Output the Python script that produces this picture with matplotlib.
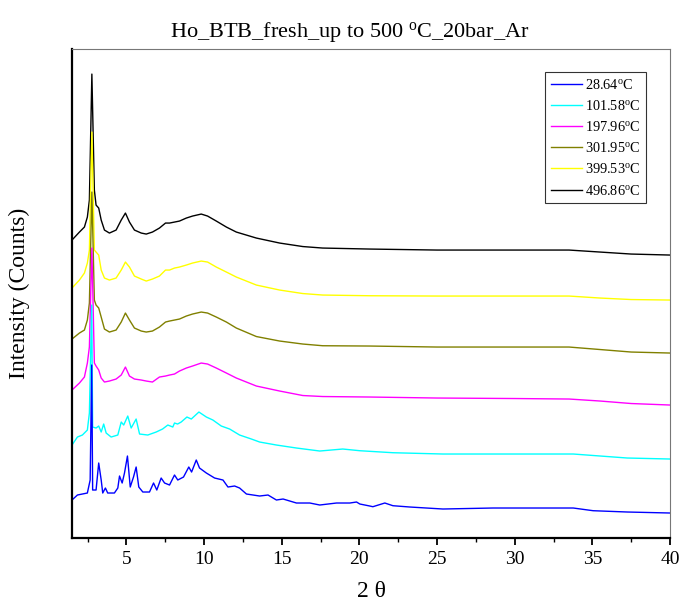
import matplotlib
matplotlib.use("Agg")
import matplotlib.pyplot as plt

plt.rcParams["font.family"] = ["Liberation Serif", "DejaVu Serif"]
plt.rcParams["mathtext.fontset"] = "custom"
plt.rcParams["mathtext.rm"] = "Liberation Serif"
plt.rcParams["mathtext.it"] = "Liberation Serif:italic"

# 2-theta grid shared by the four smoother patterns
two_theta = [1.5, 1.98, 2.30, 2.49, 2.62, 2.78, 2.94, 3.05, 3.22, 3.38, 3.59, 3.91,
             4.34, 4.67, 4.94, 5.20, 5.52, 5.96, 6.28, 6.68, 7.13, 7.52, 7.78, 8.10,
             8.42, 8.86, 9.26, 9.82, 10.23, 10.79, 11.44, 12.08, 13.37, 14.87, 16.36,
             17.64, 20.67, 25.0, 30.0, 33.5, 35.5, 37.5, 40.0]

# intensities, already stacked (arbitrary units)
i_496 = [360, 368, 373, 383, 400, 526, 410, 395, 392, 380, 370, 367,
         370, 380, 387, 378, 370, 367, 366, 368, 372, 377, 377, 378,
         379, 382, 384, 386, 384, 379, 373, 368, 362, 357, 353.5,
         352, 351, 350, 350, 350, 348, 346, 345]
i_399 = [312, 320, 327, 337, 350, 468, 350, 348, 345, 330, 322, 320,
         322, 330, 338, 333, 324, 321, 319, 321, 324, 330, 330, 332,
         333, 335, 337, 339, 338, 333, 328, 323, 315, 310, 306.5,
         305, 304.3, 304, 304, 304, 302, 300.5, 300]
i_301 = [261, 267, 270, 280, 297, 408, 300, 295, 292, 283, 271, 268,
         270, 278, 287, 280, 272, 269, 268, 269, 273, 278, 279, 280,
         281, 284, 286, 288, 287, 283, 278, 272, 263.5, 259, 256,
         254.3, 254, 253, 253, 253, 250.5, 248, 247]
i_197 = [210, 217, 223, 237, 253, 352, 237, 234, 230, 222, 218, 219,
         221, 225, 233, 224, 221, 220, 219, 218, 223, 224, 225, 226,
         229, 232, 234, 237, 236, 232, 227, 222, 214, 209, 204.5,
         203.5, 203, 202, 201.5, 201, 199, 196.5, 195]

two_theta_101 = [1.5, 1.85, 2.17, 2.49, 2.62, 2.77, 2.83, 3.05, 3.22, 3.38, 3.54, 3.70,
                 4.02, 4.45, 4.67, 4.83, 5.09, 5.31, 5.63, 5.85, 6.38, 6.92, 7.33, 7.67,
                 7.99, 8.10, 8.30, 8.53, 8.90, 9.18, 9.67, 10.15, 10.57, 11.11, 11.65,
                 12.29, 13.05, 13.58, 14.66, 15.95, 17.45, 18.93, 20.03, 22.16, 25.38,
                 28.61, 32.93, 33.77, 35.51, 37.25, 40.0]
i_101 = [155, 163, 165, 170, 187, 295, 173, 172, 174, 168, 176, 167,
         163, 165, 178, 175, 184, 172, 181, 166, 165, 168, 171, 175,
         173, 177, 176, 178, 183, 181, 188, 183, 180, 174, 171,
         165, 161, 158, 155, 152, 149, 151, 149.3, 147.3, 146,
         146, 146, 146, 144, 142, 141]

two_theta_28 = [1.5, 1.85, 2.49, 2.67, 2.77, 2.83, 3.05, 3.22, 3.38, 3.48, 3.65, 3.80,
                4.23, 4.45, 4.56, 4.73, 4.88, 5.07, 5.25, 5.46, 5.63, 5.80, 6.06, 6.49,
                6.75, 6.96, 7.24, 7.46, 7.78, 8.10, 8.31, 8.68, 9.02, 9.20, 9.50, 9.71,
                10.15, 10.68, 11.22, 11.54, 11.97, 12.29, 12.73, 13.58, 14.12, 14.66,
                15.09, 15.95, 16.81, 17.45, 18.53, 19.39, 19.82, 20.03, 20.67, 20.87,
                21.64, 22.16, 23.25, 25.38, 28.61, 32.93, 33.77, 35.05, 37.25, 40.0]
i_28 = [100, 105, 107, 120, 235, 110, 110, 137, 120, 107, 112, 107,
        107, 112, 124, 117, 127, 144, 113, 123, 133, 113, 108, 108,
        117, 110, 122, 117, 115, 125, 120, 123, 133, 128, 140, 132,
        127, 122, 120, 113, 114, 112, 106, 104, 105, 100,
        101, 97, 97, 95, 97, 97, 98, 96, 94, 93.3,
        97, 94.3, 93, 91, 92, 92, 92, 89.3, 88, 87]

labels = [r"28.64$^{\mathrm{o}}$C", r"101.58$^{\mathrm{o}}$C", r"197.96$^{\mathrm{o}}$C",
          r"301.95$^{\mathrm{o}}$C", r"399.53$^{\mathrm{o}}$C", r"496.86$^{\mathrm{o}}$C"]
colors = ["#0000ff", "#00ffff", "#ff00ff", "#808000", "#ffff00", "#000000"]

fig = plt.figure(figsize=(6.83, 6.06), dpi=100)
ax = fig.add_axes([0.1054, 0.1122, 0.8756, 0.8068])

series = [(two_theta, i_496), (two_theta, i_399), (two_theta, i_301),
          (two_theta, i_197), (two_theta_101, i_101), (two_theta_28, i_28)]
handles = []
for (x, y), c, lab in zip(series, colors[::-1], labels[::-1]):
    h, = ax.plot(x, y, color=c, lw=1.0, label=lab)
    handles.append(h)

ax.set_xlim(1.5, 40)
ax.set_ylim(62, 551)
ax.set_xticks([5, 10, 15, 20, 25, 30, 35, 40])
ax.set_xticks([2.5, 7.5, 12.5, 17.5, 22.5, 27.5, 32.5, 37.5], minor=True)
ax.set_yticks([])
ax.tick_params(axis="x", which="major", direction="out", length=5, width=1.3,
               labelsize=14, pad=4)
ax.tick_params(axis="x", which="minor", direction="out", length=3, width=1.0)
for s in ("left", "bottom"):
    ax.spines[s].set_linewidth(1.6)
for s in ("top", "right"):
    ax.spines[s].set_linewidth(0.8)
    ax.spines[s].set_color("#777777")

ax.set_xlabel("2 θ", fontsize=17, labelpad=10)
ax.set_ylabel("Intensity (Counts)", fontsize=17, labelpad=30)
ax.set_title(r"Ho_BTB_fresh_up to 500 $^{\mathrm{o}}$C_20bar_Ar", fontsize=16, pad=9, x=0.464)

leg = ax.legend(handles=handles[::-1], loc="upper right", bbox_to_anchor=(0.960, 0.953),
                fontsize=10.3, frameon=True, fancybox=False, handlelength=2.2,
                handletextpad=0.2, labelspacing=0.5, borderpad=0.4,
                borderaxespad=0.0)
leg.get_frame().set_edgecolor("black")
leg.get_frame().set_linewidth(0.8)

fig.savefig("out.png", dpi=100)
